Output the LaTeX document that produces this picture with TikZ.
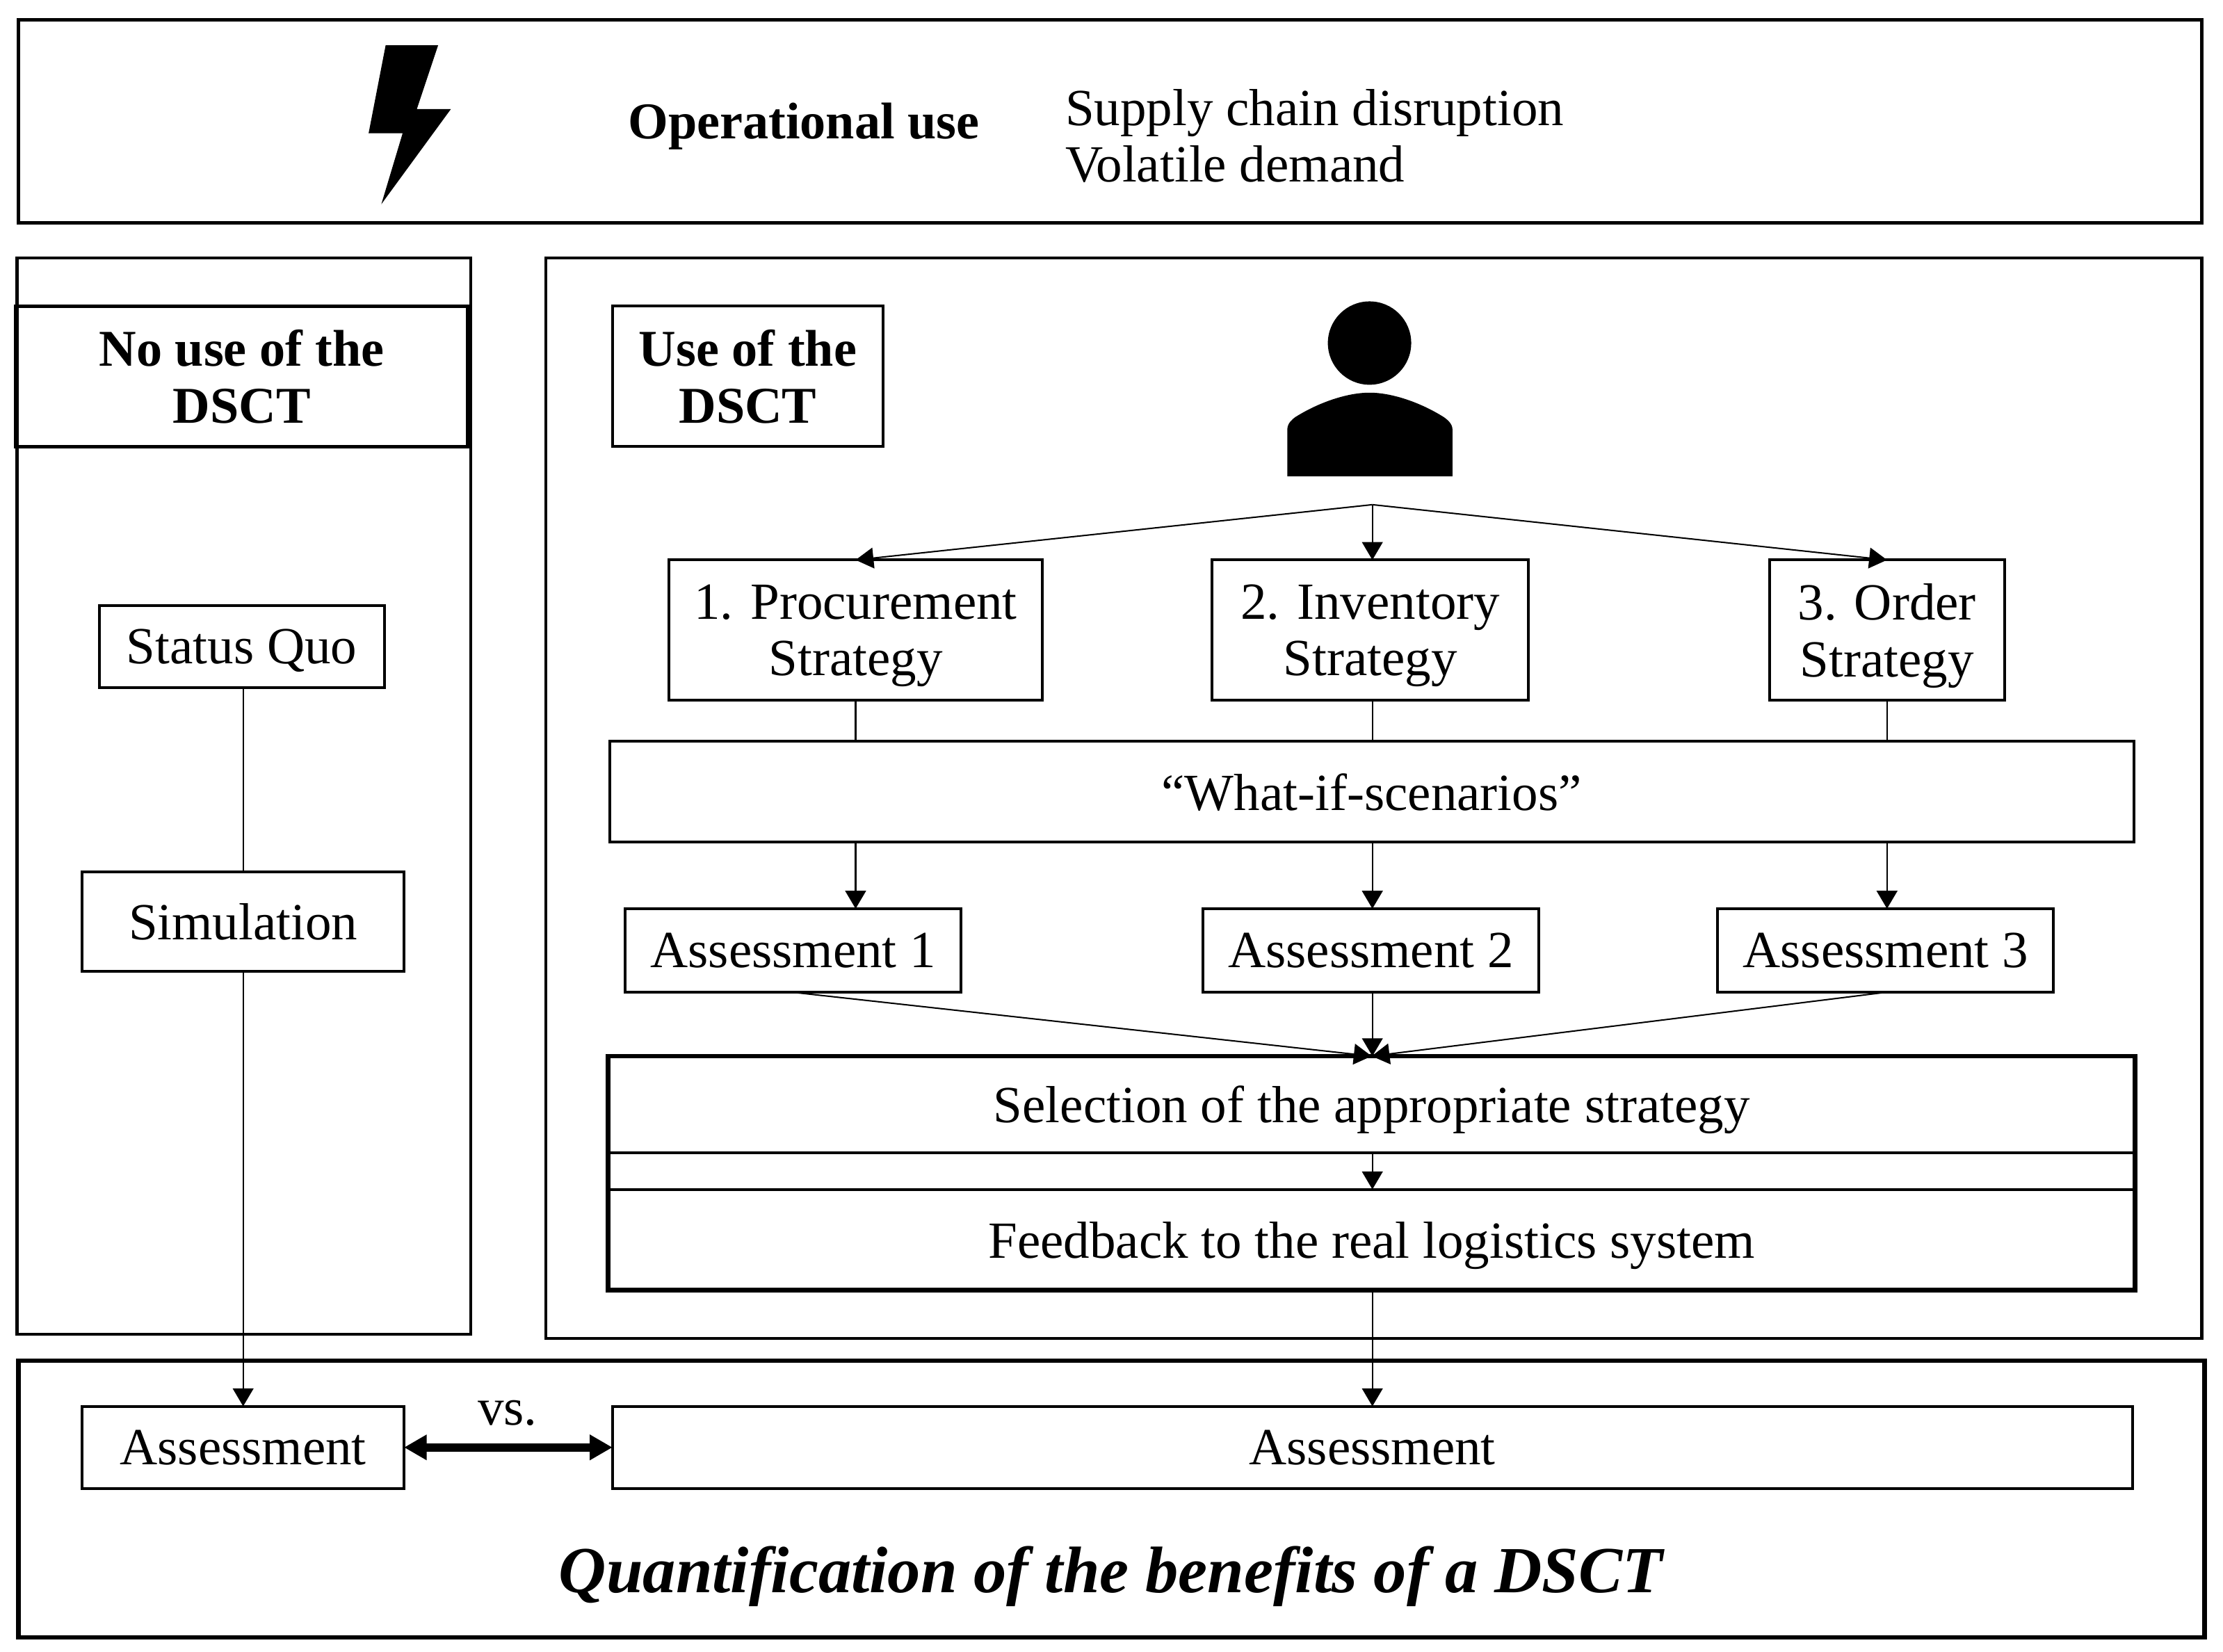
\documentclass[tikz,border=0pt]{standalone}
\usepackage{fontspec}
\setmainfont{Liberation Serif}
\usepackage{tikz}
\usetikzlibrary{arrows.meta}
\usetikzlibrary{calc}
\tikzset{flow box/.style={draw=black,rectangle,line width=1pt,inner sep=0,outer sep=0,align=center,text depth=0pt,font=\fontsize{18.4}{20}\selectfont}}
\tikzset{heavy box/.style={flow box,line width=1.2pt}}
\tikzset{flow line/.style={line width=.5pt}}
\tikzset{flow arrow/.style={flow line,-{Triangle[length=6.3pt,width=7.3pt]}}}
\def\bigfont{\fontsize{18.4}{20}\selectfont}
\def\boldfont{\fontsize{18.2}{20}\selectfont\bfseries}

\begin{document}
\begin{tikzpicture}[x=.5pt,y=-.5pt]
          \useasboundingbox (0,0) rectangle (1568,1165);

          %operational use
          \node[heavy box, minimum width=770pt, minimum height=71.5pt] (top) at (783,85.5) {};
          \fill (272,32) -- (309,32) -- (294,77) -- (318,77) -- (269,144) -- (284,94) -- (260,94) -- cycle;
          \node[font=\boldfont] (use) at (567,89) {Operational use};
          \node[font=\bigfont, align=left, anchor=west, inner sep=0] (load) at (751,96) {Supply chain disruption\\Volatile demand};

          %no use of the DSCT
          \node[flow box, minimum width=160pt, minimum height=379.5pt] (leftpanel) at (172,561.5) {};
          \node[heavy box, minimum width=159.5pt, minimum height=49.5pt, font=\boldfont] (nouse) at (170.5,265.5) {No use of the\\DSCT};
          \node[flow box, minimum width=100.5pt, minimum height=29pt] (status) at (170.5,456) {Status Quo};
          \node[flow box, minimum width=113.5pt, minimum height=35pt] (sim) at (171.5,650) {Simulation};

          %use of the DSCT
          \node[flow box, minimum width=584pt, minimum height=381pt] (rightpanel) at (969,563) {};
          \node[flow box, minimum width=95.5pt, minimum height=49.5pt, font=\boldfont] (dsct) at (527.5,265.5) {Use of the\\DSCT};

          %person
          \fill (966,242) circle (14.7pt);
          \fill (908,336) -- (908,303) .. controls (908,299) and (911,296) .. (914,294) .. controls (930,284) and (950,277) .. (966,277) .. controls (982,277) and (1002,284) .. (1018,294) .. controls (1021,296) and (1024.5,299) .. (1024.5,303) -- (1024.5,336) -- cycle;
          \coordinate (fork) at (968,356);

          %strategies
          \node[flow box, minimum width=131.5pt, minimum height=49.5pt] (proc) at (603.5,444.5) {1. Procurement\\Strategy};
          \node[flow box, minimum width=111.5pt, minimum height=49.5pt] (inv) at (966.5,444.5) {2. Inventory\\Strategy};
          \node[flow box, minimum width=83pt, minimum height=49.5pt] (order) at (1331,444.5) {3. Order\\Strategy};
          \node[flow box, minimum width=537.5pt, minimum height=35.5pt] (whatif) at (967.5,558.5) {``What-if-scenarios''};

          %assessments
          \node[flow box, minimum width=118.5pt, minimum height=29.5pt] (a1) at (559.5,670.5) {Assessment 1};
          \node[flow box, minimum width=118.5pt, minimum height=29.5pt] (a2) at (967,670.5) {Assessment 2};
          \node[flow box, minimum width=118.5pt, minimum height=29.5pt] (a3) at (1330,670.5) {Assessment 3};

          %selection and feedback
          \node[flow box, minimum width=538.5pt, minimum height=34pt] (sel) at (967.5,779) {Selection of the appropriate strategy};
          \node[flow box, minimum width=538.5pt, minimum height=35.5pt] (feed) at (967.5,874.5) {Feedback to the real logistics system};
          \node[flow box, line width=1.6pt, minimum width=538.5pt, minimum height=82.5pt] (frame) at (967.5,827.5) {};

          %quantification
          \node[flow box, line width=1.5pt, minimum width=771pt, minimum height=97.5pt] (bottom) at (784,1057.5) {};
          \node[flow box, minimum width=113.5pt, minimum height=29pt] (assl) at (171.5,1021) {Assessment};
          \node[flow box, minimum width=536pt, minimum height=29pt] (assr) at (968,1021) {Assessment};
          \node[font=\bigfont] (vs) at (358,997) {vs.};
          \node[font=\fontsize{23.2}{26}\selectfont\bfseries\itshape] (quant) at (783.5,1112) {Quantification of the benefits of a DSCT};

          %arrows
          \draw[flow line] (sim |- status.south) -- (sim);
          \draw[flow arrow] (sim) -- (assl);
          \draw[flow arrow] (fork) -- (proc.north);
          \draw[flow arrow] (fork) -- (fork |- inv.north);
          \draw[flow arrow] (fork) -- (order.north);
          \draw[flow line] (proc.south) -- (proc.south |- whatif.north);
          \draw[flow line] (fork |- inv.south) -- (fork |- whatif.north);
          \draw[flow line] (order.south) -- (order.south |- whatif.north);
          \draw[flow arrow] (proc.south |- whatif.south) -- (proc.south |- a1.north);
          \draw[flow arrow] (fork |- whatif.south) -- (fork |- a2.north);
          \draw[flow arrow] (order.south |- whatif.south) -- (order.south |- a3.north);
          \draw[flow arrow] (a1.south) -- (sel.north);
          \draw[flow arrow] (fork |- a2.south) -- (fork |- sel.north);
          \draw[flow arrow] (a3.south) -- (sel.north);
          \draw[flow arrow] (fork |- sel.south) -- (fork |- feed.north);
          \draw[flow arrow] (fork |- feed.south) -- (fork |- assr.north);
          \draw[line width=3pt, {Triangle[length=8pt,width=8.5pt]}-{Triangle[length=8pt,width=8.5pt]}] (assl) -- (assr);

\end{tikzpicture}
\end{document}
